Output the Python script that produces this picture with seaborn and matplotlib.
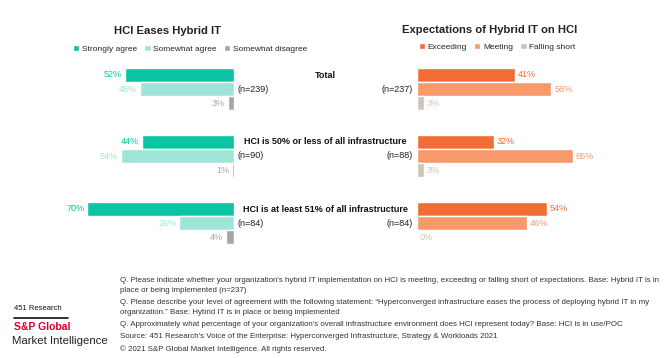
import numpy as np
import pandas as pd
import matplotlib
matplotlib.use("Agg")
import matplotlib.pyplot as plt
import seaborn as sns

# chart data
groups = ['Total', 'HCI is 50% or less of all infrastructure', 'HCI is at least 51% of all infrastructure']
agree_levels = ['Strongly agree', 'Somewhat agree', 'Somewhat disagree']
strongly_agree = [52, 44, 70]
somewhat_agree = [45, 54, 26]
somewhat_disagree = [3, 1, 4]
n_left = ['(n=239)', '(n=90)', '(n=84)']

expect_levels = ['Exceeding', 'Meeting', 'Falling short']
exceeding = [41, 32, 54]
meeting = [56, 65, 46]
falling_short = [3, 3, 0]
n_right = ['(n=237)', '(n=88)', '(n=84)']

left_colors = ['#0BC4A4', '#9FE5D7', '#A6A6A6']
right_colors = ['#F26D36', '#F7996A', '#CFC4B7']

sns.set_theme(style='white')
plt.rcParams['font.family'] = ['Liberation Sans', 'DejaVu Sans']

W, H = 672, 358
fig = plt.figure(figsize=(W / 100, H / 100), dpi=100)


def px_axes(x0, x1, y0, y1):
    return fig.add_axes([x0 / W, 1 - y1 / H, (x1 - x0) / W, (y1 - y0) / H])


left_df = pd.DataFrame({
    'group': groups * 3,
    'level': np.repeat(agree_levels, 3),
    'value': strongly_agree + somewhat_agree + somewhat_disagree,
})
right_df = pd.DataFrame({
    'group': groups * 3,
    'level': np.repeat(expect_levels, 3),
    'value': exceeding + meeting + falling_short,
})

ax_l = px_axes(24, 234, 55.5, 256.5)
ax_r = px_axes(417, 657, 55.5, 256.5)

sns.barplot(data=left_df, x='value', y='group', hue='level', palette=left_colors,
            orient='h', width=0.63, saturation=1, ax=ax_l, legend=True)
sns.barplot(data=right_df, x='value', y='group', hue='level', palette=right_colors,
            orient='h', width=0.63, saturation=1, ax=ax_r, legend=True)

ax_l.set_xlim(100, 0)
ax_r.set_xlim(0, 100)

for ax, cols in [(ax_l, left_colors), (ax_r, right_colors)]:
    for cont, c in zip(ax.containers, cols):
        ax.bar_label(cont, labels=[f'{v:.0f}%' for v in cont.datavalues],
                     padding=2, color=c, fontsize=6.5)
    ax.set_xlabel('')
    ax.set_ylabel('')
    ax.set_xticks([])
    ax.set_yticks([])
    for s in ax.spines.values():
        s.set_visible(False)
    ax.set_ylim(2.5, -0.5)

# legends
ax_l.legend(loc='center', bbox_to_anchor=((190 - 24) / 210, 1 + (55.5 - 49) / 201),
            ncol=3, frameon=False, fontsize=6, handlelength=0.75, handleheight=0.75,
            handletextpad=0.3, columnspacing=0.9, borderaxespad=0)
ax_r.legend(loc='center', bbox_to_anchor=((497 - 417) / 240, 1 + (55.5 - 47) / 201),
            ncol=3, frameon=False, fontsize=6, handlelength=0.75, handleheight=0.75,
            handletextpad=0.3, columnspacing=0.9, borderaxespad=0)

# titles
fig.text(167 / W, 1 - 31 / H, 'HCI Eases Hybrid IT', ha='center', va='center',
         fontsize=8.1, fontweight='bold', color='#222222')
fig.text(490 / W, 1 - 30 / H, 'Expectations of Hybrid IT on HCI', ha='center', va='center',
         fontsize=8.1, fontweight='bold', color='#222222')

# group labels and sample sizes
for i, g in enumerate(groups):
    yc = 89 + 67 * i
    fig.text(325 / W, 1 - (yc - 14) / H, g, ha='center', va='center',
             fontsize=6.5, fontweight='bold', color='#111111')
    fig.text(238 / W, 1 - yc / H, n_left[i], ha='left', va='center', fontsize=6.5, color='#222222')
    fig.text(413 / W, 1 - yc / H, n_right[i], ha='right', va='center', fontsize=6.5, color='#222222')

# footnotes
notes = [
    (281, "Q. Please indicate whether your organization's hybrid IT implementation on HCI is meeting, exceeding or falling short of expectations. Base: Hybrid IT is in"),
    (291, "place or being implemented (n=237)"),
    (303, "Q. Please describe your level of agreement with the following statement: \u201cHyperconverged infrastructure eases the process of deploying hybrid IT in my"),
    (313, "organization.\u201d Base: Hybrid IT is in place or being implemented"),
    (325, "Q. Approximately what percentage of your organization's overall infrastructure environment does HCI represent today? Base: HCI is in use/POC"),
    (337, "Source: 451 Research's Voice of the Enterprise: Hyperconverged Infrastructure, Strategy & Workloads 2021"),
    (349, "\u00a9 2021 S&P Global Market Intelligence. All rights reserved."),
]
for y, t in notes:
    fig.text(120 / W, 1 - y / H, t, ha='left', va='center', fontsize=5.65, color='#333333')

# logo block
fig.text(14 / W, 1 - 309 / H, '451 Research', ha='left', va='center', fontsize=5.5, color='#111111')
fig.add_artist(plt.Line2D([14 / W, 68 / W], [1 - 318 / H, 1 - 318 / H], color='#111111', lw=1.2))
fig.text(14 / W, 1 - 327 / H, 'S&P Global', ha='left', va='center', fontsize=7.5,
         fontweight='bold', color='#D6002A')
fig.text(12 / W, 1 - 341 / H, 'Market Intelligence', ha='left', va='center', fontsize=8.2, color='#222222')

fig.savefig('out.png', dpi=100)
